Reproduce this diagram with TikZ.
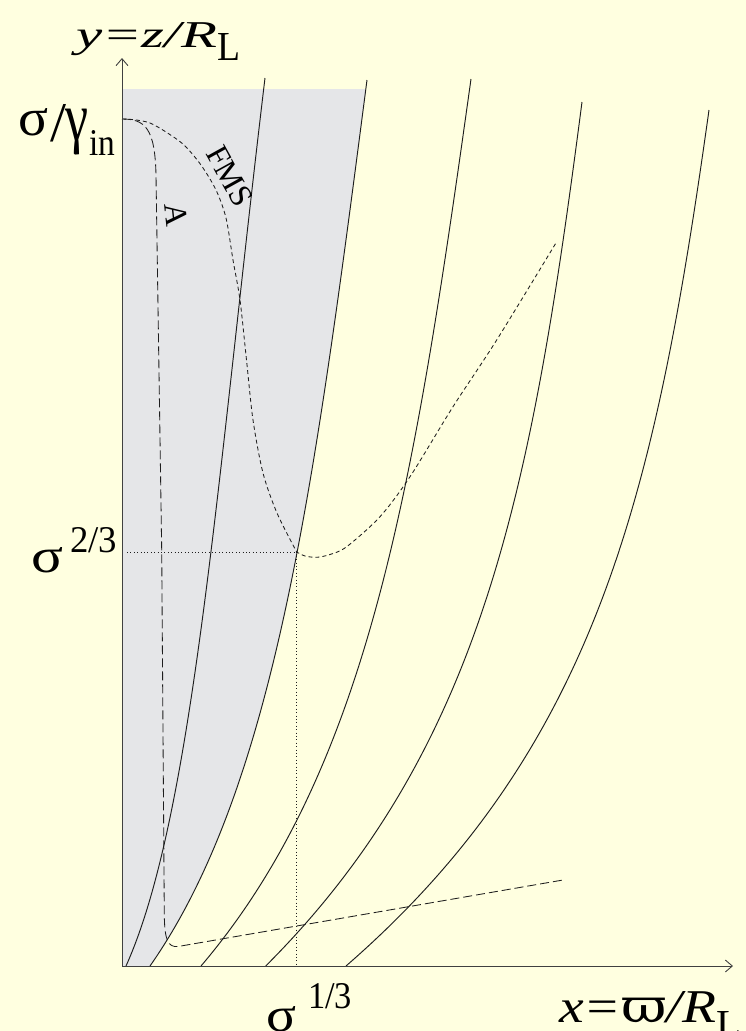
\documentclass[tikz,border=0pt]{standalone}
\usepackage{fontspec}
\setmainfont{Liberation Serif}
\newfontfamily\dvs{DejaVu Serif}
\usepackage{graphicx}
\usetikzlibrary{arrows.meta}
\definecolor{bgyellow}{RGB}{255,255,224}
\definecolor{shadegray}{RGB}{229,230,232}
\definecolor{ink}{RGB}{30,30,30}
\begin{document}
\begin{tikzpicture}[x=1pt,y=-1pt,
  fline/.style={line width=0.95pt, draw=ink},
  axisline/.style={line width=0.9pt, draw=black!75, -{Straight Barb[length=7pt,width=12pt,line width=0.9pt]}},
  fmsdash/.style={line width=0.85pt, draw=ink, dash pattern=on 4pt off 3pt},
  adash/.style={line width=0.85pt, draw=ink, dash pattern=on 9pt off 4pt},
  dotline/.style={line width=0.7pt, draw=ink, dash pattern=on 0.8pt off 2.6pt},
  lab/.style={inner sep=0pt, outer sep=0pt, anchor=base west, text=black},
  rlab/.style={inner sep=0pt, outer sep=0pt, text=black},
]
\useasboundingbox (0,0) rectangle (746,1031);
\fill[bgyellow] (0,0) rectangle (746,1031);
% shaded region, bounded by the second field line
\begin{scope}
  \clip (0,89) rectangle (746,1031);
  \fill[shadegray] (122,80) -- (367,80) .. controls (315,480) and (276,786) .. (150,966) -- (122,966) -- cycle;
\end{scope}
% dotted guides
\draw[dotline] (127,552) -- (296.7,552) -- (296.7,966);
% field lines
\draw[fline] (126,966) .. controls (193.5,816) and (217,478) .. (265,78);
\draw[fline] (150,966) .. controls (276,786) and (315,480) .. (367,80);
\draw[fline] (201,966) .. controls (371,766) and (415,479) .. (471,79);
\draw[fline] (265.7,966) .. controls (485.7,746) and (532.6,482) .. (582,102);
\draw[fline] (346,966) .. controls (599,746) and (655.8,490) .. (709,110);
% FMS surface
\draw[fmsdash] plot[smooth] coordinates {(122,119) (135,119.8) (150,123) (166,132) (184,145) (201,165) (216,190) (226,218) (233,260) (240,300) (246.5,360) (253,420) (263,473) (277,513) (296.7,552)}
  -- plot[smooth] coordinates {(296.7,552) (305,556) (316.7,557.3) (330,554.5) (346.7,546.7) (380,516.7) (410,476.7) (453,406.7) (496.7,340) (556.7,241.7)};
% Alfven surface
\draw[adash] (122,119) .. controls (145,119) and (155,128) .. (156,175) -- (161.7,550) -- (164.3,915) .. controls (164.6,940) and (168,947.5) .. (178,946.5) -- (563,880);
% axes
\draw[axisline] (122,966) -- (122,58);
\draw[axisline] (122,966) -- (733,966);
% labels
\node[lab] (ylabel) at (76,47) {\resizebox{141pt}{25pt}{\itshape y=z/R}};
\node[lab] (ylabelsub) at (217,60) {\resizebox{23pt}{27pt}{L}};
\node[lab] (sgtop) at (18,135) {\resizebox{30pt}{27pt}{σ}};
\node[lab] (slashtop) at (50,141) {\resizebox{16pt}{37pt}{/}};
\node[lab] (gammatop) at (65,140) {\resizebox*{23pt}{46pt}{γ}};
\node[lab] (insub) at (89,155) {\resizebox{26pt}{25pt}{in}};
\node[lab] (sgmid) at (31,572) {\resizebox{32pt}{25pt}{σ}};
\node[lab] (supmid) at (70,552) {\resizebox{47pt}{25pt}{2/3}};
\node[lab] (sgbot) at (266,1031) {\resizebox{30pt}{25pt}{σ}};
\node[lab] (supbot) at (308,1008) {\resizebox{44pt}{25pt}{1/3}};
\node[lab] (xlabel) at (559,1022) {\resizebox{157pt}{31pt}{\itshape x={\dvs\upshape ϖ}/R}};
\node[lab] (xlabelsub) at (716,1038) {\resizebox{25pt}{27pt}{L}};
\node[rlab, rotate=-61, font=\fontsize{32}{32}\selectfont] (fmslab) at (230,176) {FMS};
\node[rlab, rotate=-84, font=\fontsize{32}{32}\selectfont] (alab) at (176,215) {A};
\end{tikzpicture}
\end{document}
